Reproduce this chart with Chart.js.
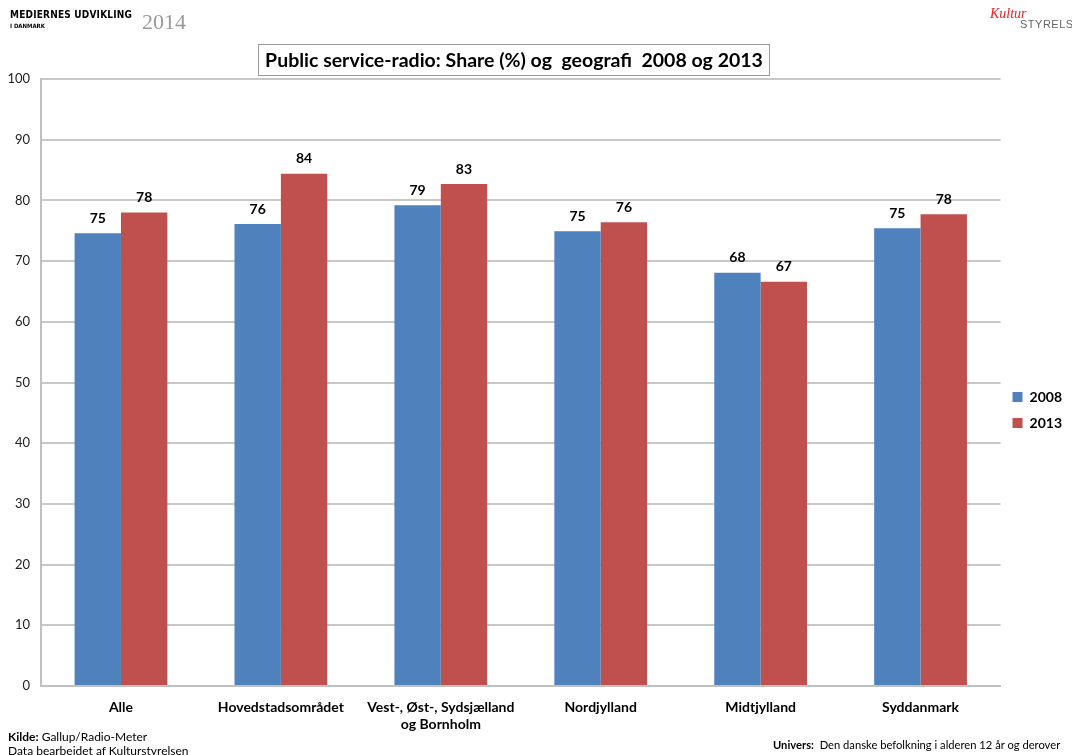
<!DOCTYPE html>
<html>
<head>
<meta charset="utf-8">
<script src="https://cdn.jsdelivr.net/npm/chart.js@4"></script>
<style>
body { margin: 0; background: #fff; font-family: Lato, sans-serif; }
#wrap { position: absolute; left: 0; top: 0; width: 1072px; height: 755px; }
.txt { position: absolute; white-space: pre; }
#title { left: 258px; top: 44px; width: 510px; height: 30px; border: 1px solid #9a9a9a; font-weight: bold; font-size: 19.5px; line-height: 30px; text-align: center; color: #000; }
</style>
</head>
<body>
<div id="wrap">
	<canvas id="chart" width="1072" height="755"></canvas>
</div>
<div class="txt" style="left:10px;top:9px;font-family:'DejaVu Sans Condensed','DejaVu Sans';font-weight:bold;font-size:10px;letter-spacing:0.2px">MEDIERNES UDVIKLING</div>
<div class="txt" style="left:10px;top:22px;font-family:'DejaVu Sans Condensed','DejaVu Sans';font-weight:bold;font-size:6px">I DANMARK</div>
<div class="txt" style="left:142px;top:9px;font-family:'Liberation Serif',serif;font-size:22px;color:#999">2014</div>
<div class="txt" style="left:990px;top:6px;font-family:'Liberation Serif',serif;font-style:italic;font-size:14px;color:#e8202a">Kultur</div>
<div class="txt" style="left:1020px;top:18px;font-family:'Liberation Sans',sans-serif;font-size:11px;color:#666;letter-spacing:0.5px">STYRELSEN</div>
<div class="txt" id="title">Public service-radio: Share (%) og  geografi  2008 og 2013</div>
<div class="txt" style="left:8px;top:729px;font-size:12px"><b>Kilde:</b> Gallup/Radio-Meter</div>
<div class="txt" style="left:8px;top:743px;font-size:12px">Data bearbejdet af Kulturstyrelsen</div>
<div class="txt" style="left:773px;top:738px;font-size:11.2px"><b>Univers:</b>  Den danske befolkning i alderen 12 år og derover</div>
<script>
const categories = ['Alle', 'Hovedstadsområdet', ['Vest-, Øst-, Sydsjælland', 'og Bornholm'], 'Nordjylland', 'Midtjylland', 'Syddanmark']
const seriesNames = ['2008', '2013']
const share2008 = [74.6, 76.1, 79.2, 74.9, 68.1, 75.4]
const share2013 = [78.0, 84.4, 82.7, 76.4, 66.6, 77.7]
const yTicks = [0, 10, 20, 30, 40, 50, 60, 70, 80, 90, 100]

// labels above each bar, rounded like the original
const barLabels = {
	id: 'barLabels',
	afterDatasetsDraw(chart) {
		const ctx = chart.ctx
		ctx.save()
		ctx.font = 'bold 14px Lato'
		ctx.fillStyle = '#000'
		ctx.textAlign = 'center'
		ctx.textBaseline = 'middle'
		chart.data.datasets.forEach((ds, i) => {
			chart.getDatasetMeta(i).data.forEach((bar, j) => {
				ctx.fillText(Math.round(ds.data[j]), bar.x, bar.y - 15)
			})
		})
		ctx.restore()
	}
}

function drawChart() {
	const ctx = document.getElementById('chart')
	new Chart(ctx, {
		type: 'bar',
		data: {
			labels: categories,
			datasets: [{
				label: seriesNames[0],
				data: share2008,
				backgroundColor: '#4f81bd',
			}, {
				label: seriesNames[1],
				data: share2013,
				backgroundColor: '#c0504d',
			}]
		},
		options: {
			responsive: false,
			animation: false,
			layout: { padding: { top: 79, bottom: 14, left: 0, right: 0 } },
			datasets: { bar: { categoryPercentage: 0.58, barPercentage: 1 } },
			scales: {
				x: {
					grid: { display: false },
					border: { color: '#c0c0c0', width: 2 },
					ticks: { color: '#000', font: { family: 'Lato', weight: 'bold', size: 14 }, padding: 5, maxRotation: 0, autoSkip: false },
					afterFit: (s) => { s.height = 55 }
				},
				y: {
					min: 0, max: 100,
					afterBuildTicks: (s) => { s.ticks = yTicks.map((v) => ({ value: v })) },
					grid: { color: '#c8c8c8', lineWidth: 2, drawTicks: false },
					border: { color: '#c0c0c0', width: 2 },
					ticks: { color: '#222', font: { family: 'Lato', size: 13 }, padding: 11 },
					afterFit: (s) => { s.width = 41 }
				}
			},
			plugins: {
				legend: {
					position: 'right',
					labels: { boxWidth: 10, boxHeight: 10, color: '#000', font: { family: 'Lato', weight: 'bold', size: 14 }, padding: 12 }
				},
				tooltip: { enabled: false }
			}
		},
		plugins: [barLabels]
	})
}

document.addEventListener('DOMContentLoaded', drawChart)
</script>
</body>
</html>
